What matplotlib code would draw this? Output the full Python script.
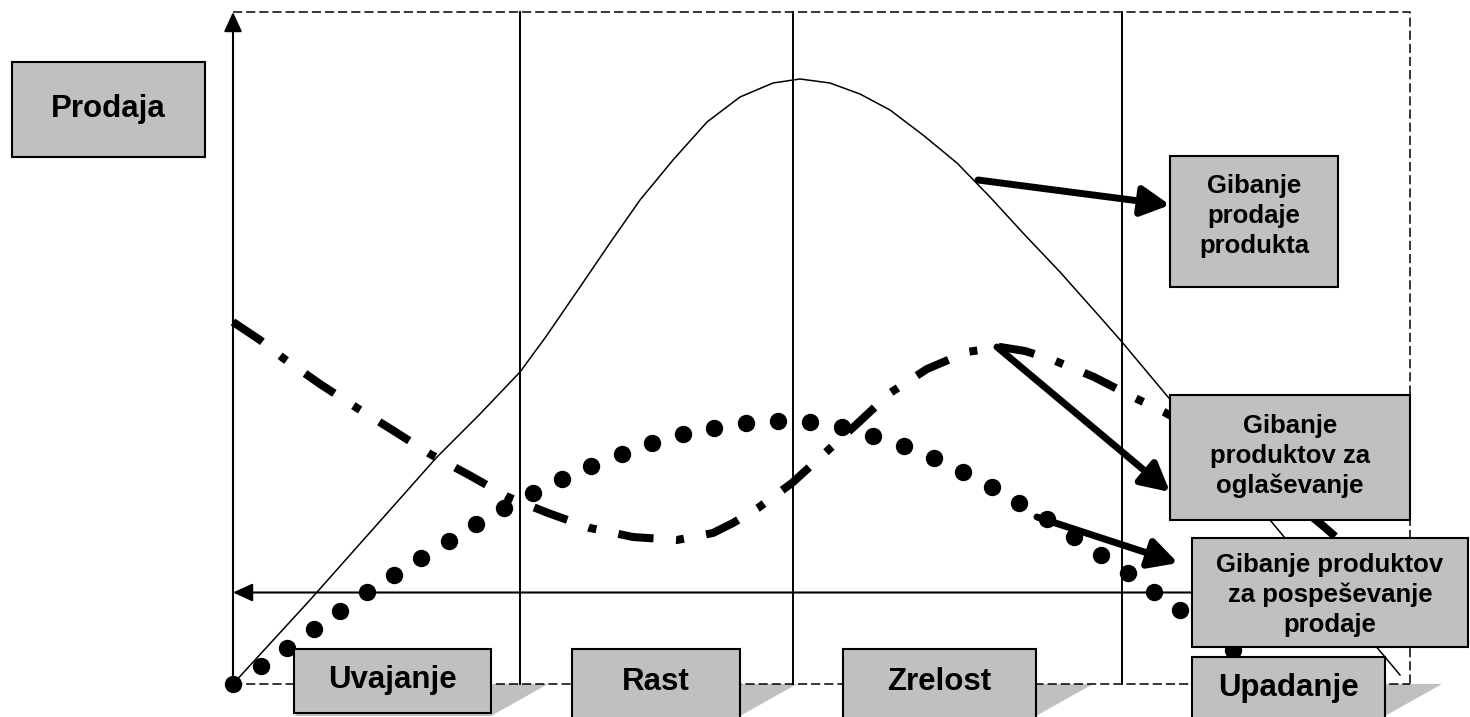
import matplotlib.pyplot as plt
from matplotlib.patches import Rectangle, Polygon

plt.rcParams['font.family'] = ['Liberation Sans', 'DejaVu Sans']

# product life cycle curves (time, level) - arbitrary units
sales_t = [0, 77, 204, 247, 287, 312, 347, 379, 407, 440, 474, 507, 540, 567, 597,
           627, 657, 690, 724, 757, 790, 827, 867, 889, 935, 987, 1037, 1097, 1152, 1167]
sales_v = [0, 84, 227, 270, 312, 346, 397, 444, 484, 524, 562, 587, 601, 605, 601,
           590, 574, 549, 521, 487, 451, 412, 367, 342, 287, 224, 164, 92, 27, 9]

adv_t = [0, 27, 50, 87, 124, 161, 197, 236, 275, 315, 357, 400, 444, 480, 500, 525,
         559, 592, 625, 657, 694, 734, 767, 792, 820, 861, 900, 931, 967, 1027, 1089, 1112]
adv_v = [362, 344, 326, 300, 276, 253, 230, 209, 187, 171, 156, 147, 144, 151, 161, 176,
         201, 231, 261, 291, 315, 332, 337, 333, 324, 307, 287, 272, 252, 210, 159, 139]

promo_t = [0, 28, 54, 81, 107, 134, 161, 188, 216, 243, 271, 300, 329, 358, 389, 419,
           450, 481, 513, 545, 577, 609, 640, 671, 701, 730, 759, 786, 814, 841, 868,
           895, 921, 947, 974, 1000]
promo_v = [0, 18, 36, 55, 73, 92, 109, 126, 143, 160, 176, 191, 205, 218, 230, 241,
           250, 256, 261, 263, 262, 257, 248, 238, 226, 212, 197, 181, 165, 147, 129,
           111, 92, 74, 54, 34]

phase_bounds = [287, 560, 889]
phases = ['Uvajanje', 'Rast', 'Zrelost', 'Upadanje']
t_end, v_top = 1177, 672
base_level = 91.5

fig = plt.figure(figsize=(14.7, 7.17), dpi=100)
ax = fig.add_axes([0, 0, 1, 1])
ax.set_xlim(-233, 1237)
ax.set_ylim(-33, 684)
ax.axis('off')

# dashed frame
dash = (0, (6, 2.6))
ax.plot([0, t_end, t_end], [v_top, v_top, 0], color='k', lw=1.1, ls=dash)
ax.plot([0, t_end], [0, 0], color='k', lw=1.1, ls=dash)

# phase separators
for b in phase_bounds:
    ax.plot([b, b], [0, v_top], color='k', lw=1.4)

# axes arrows
axis_head = '-|>,head_length=12,head_width=5.5'
ax.annotate('', xy=(0, v_top), xytext=(0, 0),
            arrowprops=dict(arrowstyle=axis_head, mutation_scale=1,
                            lw=1.5, color='k', shrinkA=0, shrinkB=0))
ax.annotate('', xy=(0, base_level), xytext=(1000, base_level),
            arrowprops=dict(arrowstyle=axis_head, mutation_scale=1,
                            lw=1.5, color='k', shrinkA=0, shrinkB=0))

# curves
ax.plot(sales_t, sales_v, color='k', lw=1.1)
ax.plot(adv_t, adv_v, color='k', lw=5.8, ls=(0, (4.4, 2.8, 1.0, 2.8)), dash_capstyle='butt')
ax.plot(promo_t, promo_v, 'o', color='k', ms=11.5, zorder=3)

# pointer arrows
pointers = [((745, 504), (937, 479)), ((764, 337), (937, 192)), ((804, 167), (945, 121))]
for start, tip in pointers:
    ax.annotate('', xy=tip, xytext=start,
                arrowprops=dict(arrowstyle='-|>,head_length=17,head_width=9', mutation_scale=1,
                                lw=5, color='k', shrinkA=0, shrinkB=0), zorder=4)

grey = '#C0C0C0'


def box(x0, x1, y0, y1, text, size, ty=None):
    ax.add_patch(Rectangle((x0, y0), x1 - x0, y1 - y0, facecolor=grey, edgecolor='k',
                           lw=1.5, zorder=6, clip_on=False))
    ax.text((x0 + x1) / 2, (y0 + y1) / 2 if ty is None else ty, text, ha='center',
            va='center', fontsize=size, fontweight='bold', linespacing=1.3, zorder=7)


def shadow(x0, x1):
    ax.add_patch(Polygon([(x0 + 57, 0), (x1 + 57, 0), (x1, -32), (x0, -32)],
                         closed=True, facecolor=grey, edgecolor='none', zorder=1))


box(-221, -28, 527, 622, 'Prodaja', 22.5)
box(937, 1105, 397, 528, 'Gibanje\nprodaje\nprodukta', 18.5, ty=468)
box(937, 1177, 164, 289, 'Gibanje\nproduktov za\noglaševanje', 18.5, ty=228)
box(959, 1235, 37, 146, 'Gibanje produktov\nza pospeševanje\nprodaje', 18.5, ty=89)

phase_boxes = [(61, 258, -29), (339, 507, -40), (610, 803, -40), (959, 1152, -46)]
phase_text_y = [4, 2, 2, -4]
for (x0, x1, y0), name, ty in zip(phase_boxes, phases, phase_text_y):
    shadow(x0, x1)
    top = 27 if name == 'Upadanje' else 35
    box(x0, x1, y0, top, name, 22.5, ty=ty)

fig.savefig('out.png', dpi=100)
